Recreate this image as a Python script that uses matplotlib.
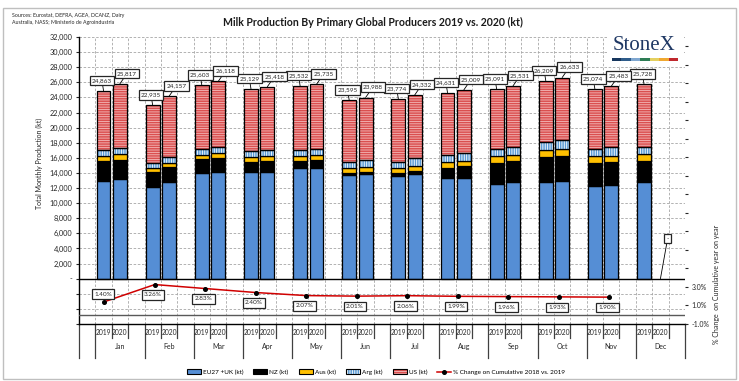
import matplotlib
matplotlib.use("Agg")
import matplotlib.pyplot as plt
import matplotlib.transforms as mtransforms
import numpy as np
from matplotlib.lines import Line2D
from matplotlib.patches import Patch, Rectangle

plt.rcParams["font.family"] = ["Lato", "DejaVu Sans"]
plt.rcParams["hatch.linewidth"] = 1.1

# ---- data (kt) ----
MONTHS = ["Jan", "Feb", "Mar", "Apr", "May", "Jun",
          "Jul", "Aug", "Sep", "Oct", "Nov", "Dec"]
YEARS = ["2019", "2020"]
nan = np.nan

EU_2019 = [12990, 12100, 13950, 14090, 14620, 13690, 13650, 13290, 12590, 12760, 12230, 12810]
NZ_2019 = [2550, 1990, 1950, 1410, 970, 310, 350, 1420, 2740, 3360, 3100, 2830]
AUS_2019 = [720, 580, 530, 620, 620, 620, 620, 700, 880, 880, 880, 880]
ARG_2019 = [830, 660, 760, 750, 790, 790, 880, 980, 1020, 1060, 1020, 970]
US_2019 = [7773, 7605, 8413, 8259, 8532, 8185, 8274, 8241, 7861, 8149, 7844, 8238]

EU_2020 = [13210, 12760, 14180, 14180, 14710, 13910, 13910, 13340, 12760, 12900, 12410, nan]
NZ_2020 = [2560, 1990, 1850, 1410, 970, 270, 360, 1540, 2790, 3310, 3000, nan]
AUS_2020 = [700, 580, 620, 620, 710, 660, 700, 710, 840, 1020, 890, nan]
ARG_2020 = [800, 800, 800, 880, 840, 930, 970, 1060, 1060, 1140, 1100, nan]
US_2020 = [8547, 8027, 8668, 8328, 8505, 8218, 8392, 8359, 8081, 8263, 8083, nan]

# % change on cumulative, Jan-Nov
PCT_CHANGE = [1.40, 3.26, 2.83, 2.40, 2.07, 2.01, 2.06, 1.99, 1.96, 1.93, 1.90]

SERIES_NAMES = ["EU27 +UK (kt)", "NZ (kt)", "Aus (kt)", "Arg (kt)", "US (kt)"]
LINE_NAME = "% Change on Cumulative 2018 vs. 2019"

# ---- styles ----
C_EU = "#558ED5"
C_NZ = "#000000"
C_AUS = "#FFC000"
C_ARG = "#5B9BD5"
C_US = "#DA4F4F"
C_LINE = "#D00000"
C_GRID = "#A6A6A6"
STYLES = [
    dict(face=C_EU, hatch=None, hcol=None),
    dict(face=C_NZ, hatch=None, hcol=None),
    dict(face=C_AUS, hatch=None, hcol=None),
    dict(face="white", hatch="|||||||", hcol=C_ARG),
    dict(face="#F3B9B9", hatch="-------", hcol=C_US),
]

W, H = 739, 381
fig = plt.figure(figsize=(W / 100, H / 100), dpi=100)
AX_L, AX_R, AX_T, AX_B = 79, 685, 37, 324
pos = [AX_L / W, 1 - AX_B / H, (AX_R - AX_L) / W, (AX_B - AX_T) / H]
ax = fig.add_axes(pos)

# slot layout: one leading blank slot, then [2019, 2020, blank] per month
n_slots = 1 + 3 * len(MONTHS)
x19 = np.arange(len(MONTHS)) * 3 + 1
x20 = x19 + 1
ax.set_xlim(-0.5, n_slots - 0.5)
ax.set_ylim(-6000, 32000)

bar_w = 0.84
for xs, parts in [(x19, [EU_2019, NZ_2019, AUS_2019, ARG_2019, US_2019]),
                  (x20, [EU_2020, NZ_2020, AUS_2020, ARG_2020, US_2020])]:
    bottom = np.zeros(len(xs))
    for vals, st in zip(parts, STYLES):
        vals = np.array(vals, dtype=float)
        if st["hatch"]:
            ax.bar(xs, vals, bar_w, bottom=bottom, color=st["face"],
                   edgecolor=st["hcol"], hatch=st["hatch"], linewidth=0, zorder=2)
            ax.bar(xs, vals, bar_w, bottom=bottom, fill=False,
                   edgecolor="black", linewidth=0.9, zorder=3)
        else:
            ax.bar(xs, vals, bar_w, bottom=bottom, color=st["face"],
                   edgecolor="black", linewidth=0.9, zorder=2)
        bottom = bottom + vals

# total labels
box = dict(boxstyle="square,pad=0.35", fc="white", ec="#262626", lw=0.9)
tot19 = np.nansum([EU_2019, NZ_2019, AUS_2019, ARG_2019, US_2019], axis=0)
tot20 = np.sum([EU_2020, NZ_2020, AUS_2020, ARG_2020, US_2020], axis=0)
for xs, tots, dx in [(x19, tot19, -1.2), (x20, tot20, 5.2)]:
    for x, t in zip(xs, tots):
        if np.isnan(t):
            txt, y, dy = "-", 0, 29
        else:
            txt, y, dy = f"{int(t):,}", t, 7.5
        ax.annotate(txt, xy=(x, y), xytext=(dx, dy), textcoords="offset points",
                    ha="center", va="center", fontsize=4.6, color="#262626",
                    bbox=box, zorder=6,
                    arrowprops=dict(arrowstyle="-", color="black", lw=0.6,
                                    shrinkA=0, shrinkB=0))

# grid / axes
ax.set_yticks(np.arange(-6000, 32001, 2000))
ax.set_yticklabels([("-" if v == 0 else (f"{v:,}" if v > 0 else ""))
                    for v in range(-6000, 32001, 2000)])
ax.set_xticks([])
ax.set_xticks(np.arange(0.5, n_slots - 0.5, 1.0), minor=True)
ax.tick_params(axis="x", which="both", length=0, labelbottom=False)
ax.tick_params(axis="y", direction="out", length=2.5, width=0.8, pad=2,
               labelsize=5.3, colors="#262626")
ax.grid(axis="y", which="major", color=C_GRID, lw=0.6, ls=(0, (3, 2)))
ax.grid(axis="x", which="minor", color=C_GRID, lw=0.6, ls=(0, (3, 2)))
ax.set_axisbelow(True)
ax.axhline(0, color="black", lw=1.0, zorder=4)
for s in ["top", "right"]:
    ax.spines[s].set_visible(False)
ax.spines["left"].set_linewidth(1.0)
ax.spines["bottom"].set_linewidth(1.0)
ax.set_ylabel("Total Monthly Production (kt)", fontsize=5, color="#262626")
ax.yaxis.set_label_coords(-0.059, 0.56)

# two-level category axis
trans = mtransforms.blended_transform_factory(ax.transData, ax.transAxes)
long_y = -(358 - AX_B) / (AX_B - AX_T)
short_y = -(338 - AX_B) / (AX_B - AX_T)
for k in range(len(MONTHS)):
    g0 = 0.5 + 3 * k
    ax.plot([g0, g0], [0, long_y], color="#404040", lw=0.9, transform=trans, clip_on=False)
    for s in (g0 + 1, g0 + 2):
        ax.plot([s, s], [0, short_y], color="#404040", lw=0.9, transform=trans, clip_on=False)
    ax.text(x19[k], -0.031, YEARS[0], transform=trans, ha="center", va="center",
            fontsize=4.8, color="#262626")
    ax.text(x20[k], -0.031, YEARS[1], transform=trans, ha="center", va="center",
            fontsize=4.8, color="#262626")
    ax.text(x19[k] + 1, -0.080, MONTHS[k], transform=trans, ha="center", va="center",
            fontsize=5, color="#262626")
for xe in (-0.5, n_slots - 0.5):
    ax.plot([xe, xe], [0, long_y], color="#404040", lw=0.9, transform=trans, clip_on=False)

# ---- secondary axes: % change line ----
ax2 = fig.add_axes(pos, frameon=False)
ax2.patch.set_visible(False)
ax2.set_xlim(0, len(MONTHS))
ax2.set_ylim(-1, 30)
xm = np.arange(len(PCT_CHANGE)) + 0.5
ax2.plot(xm, PCT_CHANGE, color=C_LINE, lw=1.1, zorder=3)
ax2.plot(xm, PCT_CHANGE, ls="none", marker="o", ms=2.6, color="black", zorder=4)
ax2.axhline(0, color="#595959", lw=1.0, zorder=1)
for i, (x, v) in enumerate(zip(xm, PCT_CHANGE)):
    off = (-0.7, 5.5) if i == 0 else (-1.3, -7.5)
    ax2.annotate(f"{v:.2f}%", xy=(x, v), xytext=off, textcoords="offset points",
                 ha="center", va="center", fontsize=4.6, color="#262626",
                 bbox=box, zorder=6)
ax2.xaxis.set_visible(False)
ax2.yaxis.tick_right()
ticks2 = np.arange(-1, 30, 2)
ax2.set_yticks(ticks2)
ax2.set_yticklabels([f"{t:.1f}%" if t <= 3 else "" for t in ticks2])
ax2.tick_params(axis="y", direction="out", length=2.5, width=0.8, pad=2,
                labelsize=5, colors="#262626")
ax2.spines["right"].set_visible(True)
ax2.spines["right"].set_linewidth(1.0)
fig.text(717 / W, 1 - 284 / H, "% Change  on Cumulative year on year", rotation=90,
         ha="center", va="center", fontsize=5, color="#262626")

# ---- logo ----
ax2.add_patch(Rectangle((0.871, 0.898), 0.127, 0.102, transform=ax2.transAxes,
                        fc="white", ec="none", zorder=8, clip_on=False))
ax2.text(0.932, 0.972, "StoneX", transform=ax2.transAxes, ha="center", va="center",
         fontsize=15, family="Liberation Serif", color="#1F3864", zorder=9)
LOGO_COLS = ["#17375E", "#2E5C8A", "#7FA7D0", "#2E7D55", "#E4D060", "#F0A830", "#C0282D"]
seg = (678 - 612) / (AX_R - AX_L) / len(LOGO_COLS)
for i, c in enumerate(LOGO_COLS):
    ax2.add_patch(Rectangle(((612 - AX_L) / (AX_R - AX_L) + i * seg, (AX_B - 61) / (AX_B - AX_T)),
                            seg, 3 / (AX_B - AX_T), transform=ax2.transAxes,
                            fc=c, ec="none", zorder=9, clip_on=False))

# ---- titles ----
fig.text(373 / W, 1 - 22 / H, "Milk Production By Primary Global Producers 2019 vs. 2020 (kt)",
         ha="center", va="center", fontsize=7.6, fontweight="bold", color="#1a1a1a")
fig.text(12 / W, 1 - 19 / H,
         "Sources: Eurostat, DEFRA, AGEA, DCANZ, Dairy\nAustralia, NASS; Ministerio de Agroindustria",
         ha="left", va="center", fontsize=3.8, color="#262626", linespacing=1.4)

# ---- legend ----
handles = []
for st in STYLES:
    if st["hatch"]:
        handles.append((Patch(fc=st["face"], ec=st["hcol"], hatch=st["hatch"], lw=0),
                        Patch(fill=False, ec="black", lw=0.8)))
    else:
        handles.append(Patch(fc=st["face"], ec="black", lw=0.8))
handles.append(Line2D([], [], color=C_LINE, lw=1.1, marker="o", ms=2.6,
                      mfc="black", mec="black"))
fig.legend(handles, SERIES_NAMES + [LINE_NAME], loc="center",
           bbox_to_anchor=(376 / W, 1 - 372 / H), ncol=6, frameon=False,
           fontsize=4.6, handlelength=2.2, handleheight=0.8, columnspacing=1.6,
           handletextpad=0.3, borderpad=0)

# ---- outer frame ----
fig.add_artist(Rectangle((3 / W, 2 / H), 733 / W, 371 / H, transform=fig.transFigure,
                         fill=False, ec="#BFBFBF", lw=1.0))

fig.savefig("out.png", dpi=100)
